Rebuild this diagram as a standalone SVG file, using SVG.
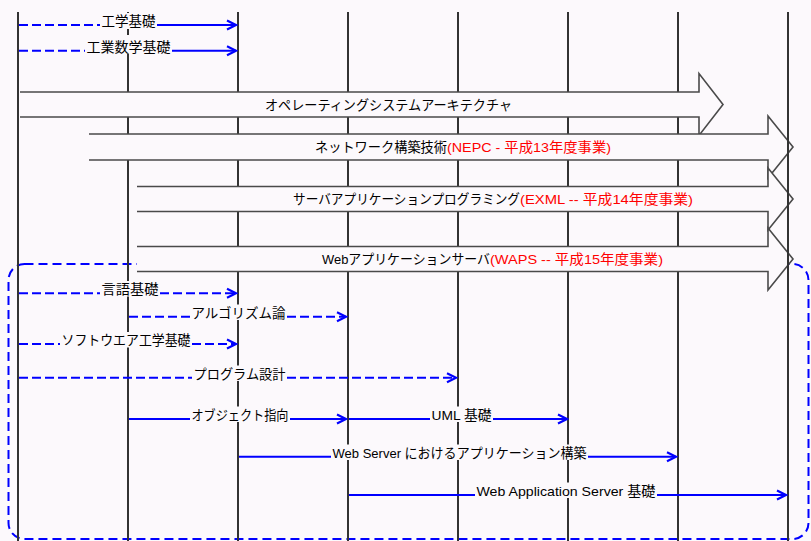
<svg xmlns="http://www.w3.org/2000/svg" width="811" height="541" viewBox="0 0 811 541">
<defs>
<marker id="ah" markerUnits="userSpaceOnUse" markerWidth="12" markerHeight="12" refX="10" refY="6" orient="auto">
<path d="M1,1.5 L10,6 L1,10.5" fill="none" stroke="#0000ff" stroke-width="2.2"/>
</marker>
<style>
.life{stroke:#333;stroke-width:2;fill:none}
.blkf{fill:#fcf9fc;stroke:none}
.blks{fill:none;stroke:#4a4a4a;stroke-width:1.6}
.t{font-family:"Liberation Sans","Noto Sans CJK JP",sans-serif;font-size:13.5px;fill:#000}
.red{fill:#ff0000}
.sol{stroke:#0000ff;stroke-width:2;fill:none}
.das{stroke:#0000ff;stroke-width:2;fill:none;stroke-dasharray:9,4}
.lbg{fill:#fcf9fc}
</style>
</defs>
<rect x="0" y="0" width="811" height="541" fill="#fcf9fc"/>
<rect id="group-box" x="8.5" y="264" width="800" height="275" rx="16" fill="none" stroke="#0000ff" stroke-width="2" stroke-dasharray="9,5"/>
<g id="lifelines">
<line class="life" x1="18" y1="12" x2="18" y2="541"/>
<line class="life" x1="128" y1="12" x2="128" y2="541"/>
<line class="life" x1="238" y1="12" x2="238" y2="541"/>
<line class="life" x1="348" y1="12" x2="348" y2="541"/>
<line class="life" x1="458" y1="12" x2="458" y2="541"/>
<line class="life" x1="568" y1="12" x2="568" y2="541"/>
<line class="life" x1="678" y1="12" x2="678" y2="541"/>
</g>
<g id="os-arch">
<polygon class="blkf" points="20,92 699,92 699,73.5 723,104.5 699,135.5 699,117 20,117"/>
<path class="blks" d="M20,92 H699 V73.5 L723,104.5 L699,135.5 V117 H20"/>
<text class="t" x="265" y="109.5" textLength="247" lengthAdjust="spacingAndGlyphs">オペレーティングシステムアーキテクチャ</text>
</g>
<g id="nepc">
<polygon class="blkf" points="89,134 768,134 768,116 793,147 768,178 768,160 89,160"/>
<path class="blks" d="M89,134 H768 V116 L793,147 L768,178 V160 H89"/>
<text class="t" x="315" y="152" textLength="132" lengthAdjust="spacingAndGlyphs">ネットワーク構築技術</text>
<text class="t red" x="447" y="152" textLength="164" lengthAdjust="spacingAndGlyphs">(NEPC - 平成13年度事業)</text>
</g>
<g id="exml">
<polygon class="blkf" points="137,186.5 768,186.5 768,168 793,199 768,230 768,211.5 137,211.5"/>
<path class="blks" d="M137,186.5 H768 V168 L793,199 L768,230 V211.5 H137"/>
<text class="t" x="293" y="204" textLength="227" lengthAdjust="spacingAndGlyphs">サーバアプリケーションプログラミング</text>
<text class="t red" x="520" y="204" textLength="173" lengthAdjust="spacingAndGlyphs">(EXML -- 平成14年度事業)</text>
</g>
<g id="waps">
<polygon class="blkf" points="137,246.5 768,246.5 768,228 793,259 768,290 768,271.5 137,271.5"/>
<path class="blks" d="M137,246.5 H768 V228 L793,259 L768,290 V271.5 H137"/>
<text class="t" x="322" y="264" textLength="168" lengthAdjust="spacingAndGlyphs">Webアプリケーションサーバ</text>
<text class="t red" x="490" y="264" textLength="173" lengthAdjust="spacingAndGlyphs">(WAPS -- 平成15年度事業)</text>
</g>
<line id="lifeline-last" class="life" x1="788" y1="12" x2="788" y2="541"/>
<g id="connectors">
<g id="c1">
<line class="das" x1="19" y1="25" x2="100" y2="25"/>
<line class="sol" x1="157" y1="25" x2="236" y2="25" marker-end="url(#ah)"/>
<rect class="lbg" x="100" y="13" width="57" height="16"/>
<text class="t" x="101.5" y="26" textLength="54" lengthAdjust="spacingAndGlyphs">工学基礎</text>
</g>
<g id="c2">
<line class="das" x1="19" y1="50.7" x2="85" y2="50.7"/>
<line class="sol" x1="172" y1="50.7" x2="236" y2="50.7" marker-end="url(#ah)"/>
<rect class="lbg" x="85" y="35" width="87" height="18.5"/>
<text class="t" x="86.5" y="51.7" textLength="84" lengthAdjust="spacingAndGlyphs">工業数学基礎</text>
</g>
<g id="c3">
<line class="das" x1="19" y1="293.3" x2="100" y2="293.3"/>
<line class="das" x1="160" y1="293.3" x2="236" y2="293.3" marker-end="url(#ah)"/>
<rect class="lbg" x="100" y="281" width="60" height="15.5"/>
<text class="t" x="101.5" y="294.3" textLength="57" lengthAdjust="spacingAndGlyphs">言語基礎</text>
</g>
<g id="c4">
<line class="das" x1="129" y1="316.7" x2="190" y2="316.7"/>
<line class="das" x1="287" y1="316.7" x2="346" y2="316.7" marker-end="url(#ah)"/>
<rect class="lbg" x="190" y="304.5" width="97" height="15.5"/>
<text class="t" x="191.5" y="317.7" textLength="94" lengthAdjust="spacingAndGlyphs">アルゴリズム論</text>
</g>
<g id="c5">
<line class="das" x1="19" y1="344" x2="60" y2="344"/>
<line class="das" x1="192" y1="344" x2="236" y2="344" marker-end="url(#ah)"/>
<rect class="lbg" x="60" y="332" width="132" height="15.5"/>
<text class="t" x="61.5" y="345" textLength="129" lengthAdjust="spacingAndGlyphs">ソフトウエア工学基礎</text>
</g>
<g id="c6">
<line class="das" x1="19" y1="377.7" x2="192" y2="377.7"/>
<line class="das" x1="287" y1="377.7" x2="456" y2="377.7" marker-end="url(#ah)"/>
<rect class="lbg" x="192" y="365.5" width="95" height="15.5"/>
<text class="t" x="193.5" y="378.7" textLength="92" lengthAdjust="spacingAndGlyphs">プログラム設計</text>
</g>
<g id="c7">
<line class="sol" x1="129" y1="419" x2="190" y2="419"/>
<line class="sol" x1="290" y1="419" x2="346" y2="419" marker-end="url(#ah)"/>
<rect class="lbg" x="190" y="406.5" width="100" height="15.5"/>
<text class="t" x="191.5" y="420" textLength="97" lengthAdjust="spacingAndGlyphs">オブジェクト指向</text>
</g>
<g id="c8">
<line class="sol" x1="349" y1="419" x2="430" y2="419"/>
<line class="sol" x1="493" y1="419" x2="567" y2="419" marker-end="url(#ah)"/>
<rect class="lbg" x="430" y="406.5" width="63" height="15.5"/>
<text class="t" x="431.5" y="420" textLength="60" lengthAdjust="spacingAndGlyphs">UML 基礎</text>
</g>
<g id="c9">
<line class="sol" x1="239" y1="456.7" x2="331" y2="456.7"/>
<line class="sol" x1="588" y1="456.7" x2="676" y2="456.7" marker-end="url(#ah)"/>
<rect class="lbg" x="331" y="444.5" width="257" height="15.5"/>
<text class="t" x="332.5" y="457.7" textLength="254" lengthAdjust="spacingAndGlyphs">Web Server におけるアプリケーション構築</text>
</g>
<g id="c10">
<line class="sol" x1="349" y1="495" x2="475" y2="495"/>
<line class="sol" x1="657" y1="495" x2="786" y2="495" marker-end="url(#ah)"/>
<rect class="lbg" x="475" y="482.5" width="182" height="15.5"/>
<text class="t" x="476.5" y="496" textLength="179" lengthAdjust="spacingAndGlyphs">Web Application Server 基礎</text>
</g>
</g>
</svg>
